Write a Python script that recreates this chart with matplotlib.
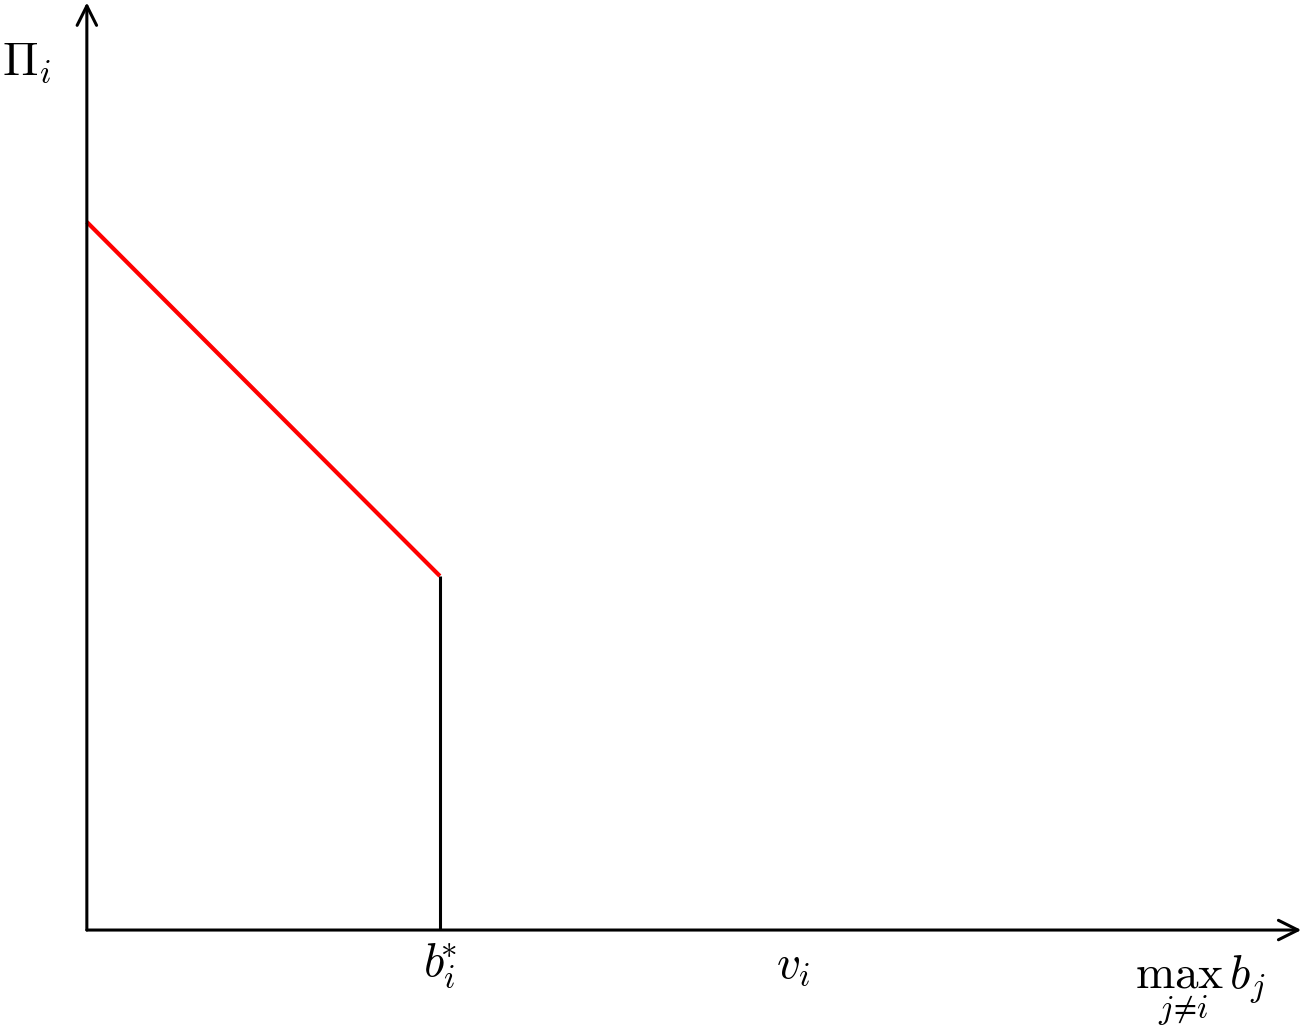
import matplotlib
matplotlib.use("Agg")
import matplotlib.pyplot as plt
import numpy as np

plt.rcParams['mathtext.fontset'] = 'cm'

# payoff curve (red) for bids below b*
bid_x = [0.0, 1.0]
payoff_y = [2.0, 1.0]
b_star = 1.0
v_i = 2.0
x_max = 3.44
y_max = 2.62

fig = plt.figure(figsize=(13.02, 10.32), dpi=100)
ax = fig.add_axes([0, 0, 1, 1])
ax.set_xlim(-0.246, 3.442)
ax.set_ylim(-0.288, 2.627)
ax.axis('off')

# axes arrows
arrow = dict(arrowstyle='->', lw=2.2, color='black', mutation_scale=35, shrinkA=0, shrinkB=0)
ax.annotate('', xy=(x_max, 0), xytext=(0, 0), arrowprops=arrow)
ax.annotate('', xy=(0, y_max), xytext=(0, 0), arrowprops=arrow)

ax.plot(bid_x, payoff_y, color='red', lw=3, solid_capstyle='butt')
ax.plot([b_star, b_star], [0, payoff_y[-1]], color='black', lw=2.2, solid_capstyle='butt')

fs = 34
ax.text(-0.17, 2.45, r'$\Pi_i$', fontsize=fs, ha='center', va='center')
ax.text(b_star, -0.1, r'$b_i^{\!\!\!*}$', fontsize=fs, ha='center', va='center')
ax.text(v_i, -0.1, r'$v_i$', fontsize=fs, ha='center', va='center')
ax.text(2.969, -0.167, r'$\mathrm{max}\,b_j$', fontsize=fs, ha='left', va='baseline')
ax.text(3.105, -0.249, r'$j\!\neq\! i$', fontsize=24, ha='center', va='baseline')

fig.savefig('out.png', dpi=100)
